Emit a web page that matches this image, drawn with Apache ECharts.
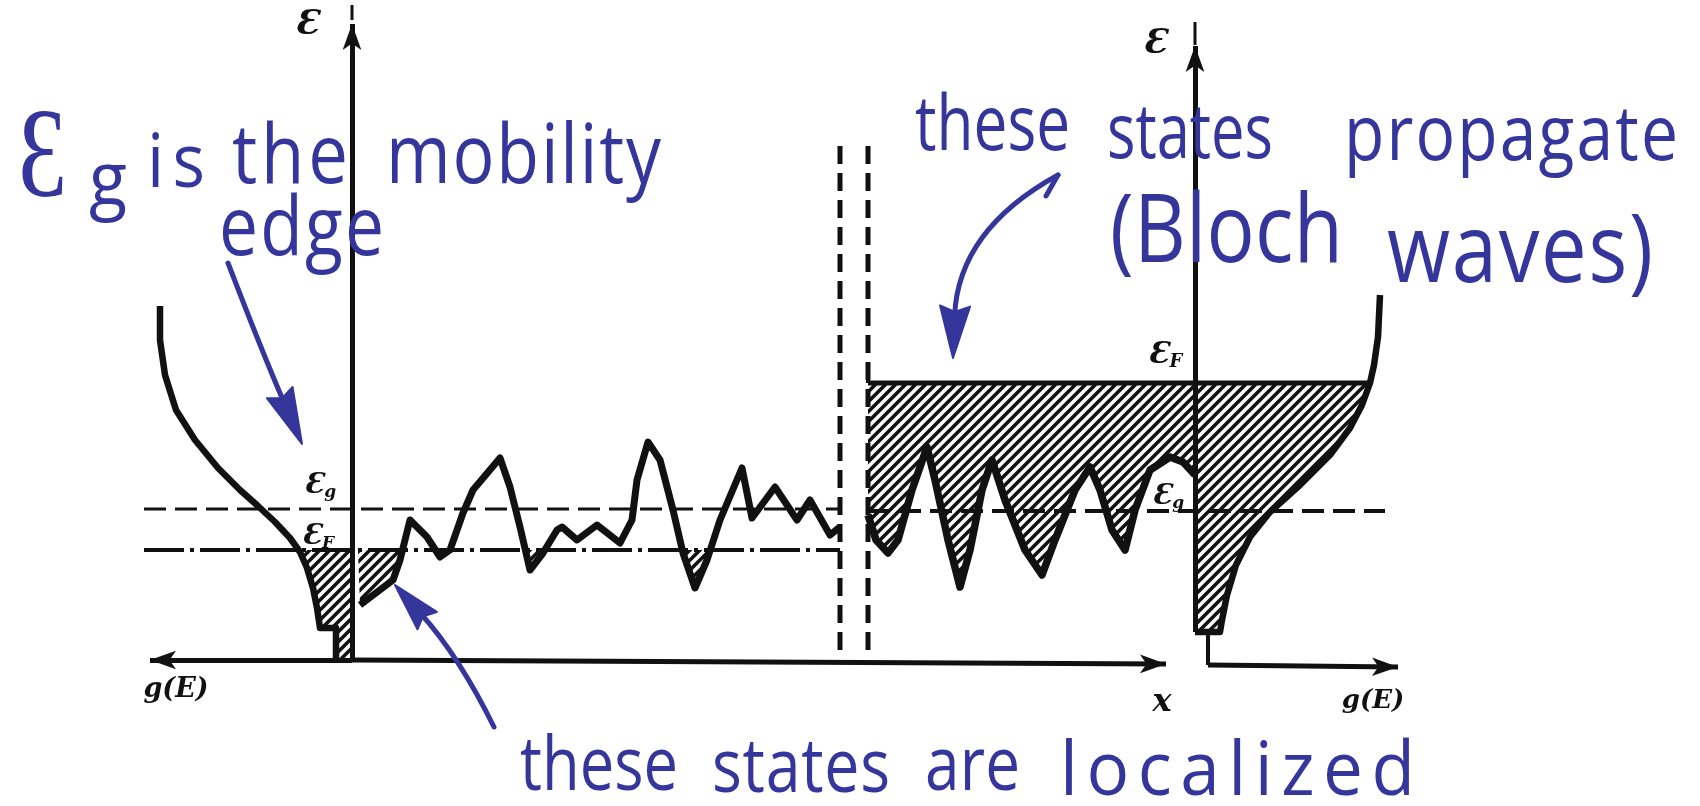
<!DOCTYPE html>
<html>
<head>
<meta charset="utf-8">
<title>Mobility edge: localized and propagating states</title>
<script src="https://cdn.jsdelivr.net/npm/echarts@6/dist/echarts.min.js"></script>
<style>
  html, body { margin: 0; padding: 0; background: #ffffff; }
  #chart { width: 1700px; height: 806px; }
</style>
</head>
<body>
<div id="chart"></div>
<script>
// One plane carries both panels: x is the horizontal position, e the energy
// measured upward from the x axis.

// Energy levels (mobility edge and Fermi level) in each panel
const leftEg = 151;
const leftEF = 110;
const rightEg = 149;
const rightEF = 277;

// Left panel: density of states, g(E) grows to the left of the energy axis
const leftDos = [[160,354],[160,320],[165,285],[176,250],[195,220],[218,192],[240,170],[258,154],
  [275,138],[290,122],[300,108],[307,92],[313,72],[317,52],[320,32],[336,32],[336,0]];

// Random potential on the localized side
const leftPotential = [[360,55],[393,80],[400,100],[410,140],[427,123],[440,103],[450,110],[463,147],
  [473,170],[500,202],[510,173],[520,133],[530,90],[543,107],[557,130],[562,133],[577,120],[597,135],
  [620,117],[632,140],[637,180],[648,218],[660,200],[673,150],[683,107],[695,72],[707,100],[720,140],
  [742,192],[752,142],[775,173],[797,140],[810,160],[830,125],[840,133]];

// Random potential on the propagating side
const rightPotential = [[868,145],[876,120],[888,107],[898,120],[912,170],[927,213],[935,180],[948,120],
  [960,73],[970,110],[982,170],[992,200],[1005,160],[1025,110],[1042,85],[1055,120],[1075,170],
  [1090,193],[1100,170],[1112,130],[1125,110],[1135,150],[1150,190],[1170,203],[1183,198],[1195,185]];

// Right panel: density of states, g(E) grows to the right
const rightDos = [[1380,365],[1378,323],[1374,295],[1370,277],[1362,255],[1350,232],[1330,205],
  [1300,175],[1270,148],[1250,123],[1236,95],[1227,65],[1222,40],[1220,28],[1195,28]];

// Frame of the figure
const leftAxisX = 352;
const rightAxisX = 1195;
const wallX = [840, 868];

const INK = '#111111';
const PEN = '#34369c';

// Diagonal hatching used for occupied states
const hatchCanvas = (function () {
  const c = document.createElement('canvas');
  c.width = 10; c.height = 10;
  const g = c.getContext('2d');
  g.strokeStyle = INK; g.lineWidth = 3.6;
  g.beginPath();
  g.moveTo(-5, 5); g.lineTo(5, -5);
  g.moveTo(0, 10); g.lineTo(10, 0);
  g.moveTo(5, 15); g.lineTo(15, 5);
  g.stroke();
  return c;
})();
const hatchFill = { type: 'pattern', image: hatchCanvas, repeat: 'repeat' };

// Keep the part of a polygon that lies below a given energy
function clipBelow(poly, level) {
  const out = [];
  for (let i = 0; i < poly.length; i++) {
    const a = poly[i], b = poly[(i + 1) % poly.length];
    const ain = a[1] <= level, bin = b[1] <= level;
    if (ain) out.push(a);
    if (ain !== bin) {
      const t = (level - a[1]) / (b[1] - a[1]);
      out.push([a[0] + t * (b[0] - a[0]), level]);
    }
  }
  return out;
}

const filled = [
  clipBelow([[leftAxisX, 400]].concat(leftDos, [[leftAxisX, 0]]), leftEF),
  clipBelow([[358, leftEF]].concat(leftPotential, [[wallX[0], leftEF]]), leftEF),
  clipBelow([[wallX[1], rightEF]].concat(rightPotential, [[rightAxisX, rightEF]]), rightEF),
  clipBelow([[rightAxisX, 400]].concat(rightDos), rightEF)
];

// Symbol labels on the axes
const symbolLabels = [
  { sub: '',  x: 307,  e: 635, size: 34 },
  { sub: '',  x: 1155, e: 616, size: 34 },
  { sub: 'g', x: 320,  e: 174, size: 28 },
  { sub: 'F', x: 318,  e: 123, size: 28 },
  { sub: 'F', x: 1165, e: 305, size: 30 },
  { sub: 'g', x: 1168, e: 163, size: 28 }
];
const axisTitles = [
  { text: 'g(E)', x: 176,  e: -30, size: 27 },
  { text: 'g(E)', x: 1373, e: -41, size: 26 },
  { text: 'x',    x: 1162, e: -43, size: 32 }
];

// Handwritten notes, word by word: left/right extent, baseline, size, vertical stretch
const notes = [
  { text: 'Ɛ',         x0: 18,   x1: 67,   e: 463,  size: 128, sy: 1.0 },
  { text: 'g',         x0: 89,   x1: 127,  e: 455,  size: 62 },
  { text: 'is',        x0: 147,  x1: 205,  e: 473,  size: 62 },
  { text: 'the',       x0: 232,  x1: 348,  e: 477,  size: 68 },
  { text: 'mobility',  x0: 386,  x1: 661,  e: 477,  size: 68 },
  { text: 'edge',      x0: 219,  x1: 384,  e: 405,  size: 68 },
  { text: 'these',     x0: 915,  x1: 1070, e: 510,  size: 64 },
  { text: 'states',    x0: 1107, x1: 1273, e: 502,  size: 64 },
  { text: 'propagate', x0: 1344, x1: 1678, e: 500,  size: 64 },
  { text: '(Bloch',    x0: 1110, x1: 1343, e: 398,  size: 80 },
  { text: 'waves)',    x0: 1387, x1: 1653, e: 378,  size: 80 },
  { text: 'these',     x0: 520,  x1: 678,  e: -130, size: 62 },
  { text: 'states',    x0: 712,  x1: 890,  e: -132, size: 62 },
  { text: 'are',       x0: 925,  x1: 1020, e: -130, size: 62 },
  { text: 'localized', x0: 1060, x1: 1415, e: -135, size: 62 }
];
const NOTE_FONT = '"Open Sans"';
const NOTE_WEIGHT = 400;
const NOTE_STRETCH = 1.2;

// Pointers from the notes: tail, bend point of the shaft, tip; head length and width
const pointers = [
  { tail: [228, 397],  bend: [263, 306],   tip: [302, 216], head: [56, 28] },
  { tail: [494, -67],  bend: [459, 4],     tip: [395, 75],  head: [48, 26] },
  { tail: [1058, 485], bend: [958, 430],   tip: [953, 302], head: [52, 30] }
];
// small flick at the start of the upper pointer
const pointerFlick = [[1058, 485], [1046, 464]];

const measureCtx = document.createElement('canvas').getContext('2d');
function textWidth(text, font) { measureCtx.font = font; return measureCtx.measureText(text).width; }

function segment(points, style, z) {
  return { type: 'line', data: points, showSymbol: false, silent: true, z: z || 3,
    animation: false, lineStyle: Object.assign({ color: INK, join: 'round', cap: 'butt' }, style) };
}

function arrowPair(from, to, size) {
  return [{ coord: from, symbol: 'none' }, { coord: to, symbol: 'arrow', symbolSize: size }];
}

const chart = echarts.init(document.getElementById('chart'), null, { renderer: 'canvas' });

const option = {
  backgroundColor: '#ffffff',
  animation: false,
  grid: { left: 0, right: 0, top: 0, bottom: 0 },
  xAxis: { type: 'value', min: 0, max: 1700, show: false },
  yAxis: { type: 'value', min: -146, max: 660, show: false },
  series: [
    // hatched occupied states
    {
      type: 'custom', silent: true, z: 1, animation: false,
      data: filled.map((p, i) => [i, 0]),
      renderItem: function (params, api) {
        const pts = filled[params.dataIndex].map(p => api.coord(p));
        return { type: 'polygon', shape: { points: pts }, style: { fill: hatchFill, stroke: null } };
      }
    },
    // energy levels
    segment([[144, leftEg], [wallX[0], leftEg]], { width: 3, type: [22, 9] }),
    segment([[144, leftEF], [wallX[0], leftEF]], { width: 4, type: [40, 6, 4, 6] }),
    segment([[wallX[1], rightEF], [1370, rightEF]], { width: 5 }),
    segment([[wallX[1], rightEg], [1385, rightEg]], { width: 4, type: [22, 9] }),
    segment([[wallX[1], 295], [wallX[1], rightEF]], { width: 4 }),
    // walls of the two regions
    segment([[wallX[0], 10], [wallX[0], 522]], { width: 5, type: [18, 9] }),
    segment([[wallX[1], 10], [wallX[1], 522]], { width: 5, type: [18, 9] }),
    // density of states and potential curves
    segment(leftDos, { width: 6.5 }, 4),
    segment(leftPotential, { width: 7 }, 4),
    segment(rightPotential, { width: 7.5 }, 4),
    segment(rightDos, { width: 6.5 }, 4),
    // axes
    segment([[rightAxisX, 28], [1208, 28], [1208, -5]], { width: 4 }),
    segment([[leftAxisX, 640], [leftAxisX, 655]], { width: 3 }),
    segment([[rightAxisX, 615], [rightAxisX, 638]], { width: 3 }),
    {
      type: 'line', data: [], silent: true, z: 5, animation: false,
      markLine: {
        silent: true, animation: false, label: { show: false },
        lineStyle: { color: INK, width: 5, type: 'solid' },
        symbol: ['none', 'none'],
        data: [
          arrowPair([leftAxisX, 0], [leftAxisX, 636], [14, 26]),
          arrowPair([leftAxisX, 0], [150, 0], [14, 26]),
          arrowPair([leftAxisX, 0], [1166, -4], [14, 26]),
          arrowPair([rightAxisX, 28], [rightAxisX, 614], [14, 26]),
          arrowPair([1208, -5], [1398, -7], [14, 26])
        ]
      }
    },
    // symbol labels
    {
      type: 'custom', silent: true, z: 6, animation: false,
      data: symbolLabels.map((p, i) => [i, 0]),
      renderItem: function (params, api) {
        const L = symbolLabels[params.dataIndex];
        const p = api.coord([L.x, L.e]);
        return {
          type: 'text', x: p[0], y: p[1],
          style: {
            text: L.sub ? '{m|Ɛ}{s|' + L.sub + '}' : '{m|Ɛ}',
            align: 'center', verticalAlign: 'middle',
            rich: {
              m: { fontFamily: 'DejaVu Serif', fontStyle: 'italic', fontWeight: 'bold', fontSize: L.size, fill: INK },
              s: { fontFamily: 'DejaVu Serif', fontStyle: 'italic', fontWeight: 'bold', fontSize: Math.round(L.size * 0.6),
                   fill: INK, padding: [Math.round(L.size * 0.5), 0, 0, 0] }
            }
          }
        };
      }
    },
    {
      type: 'custom', silent: true, z: 6, animation: false,
      data: axisTitles.map((p, i) => [i, 0]),
      renderItem: function (params, api) {
        const L = axisTitles[params.dataIndex];
        const p = api.coord([L.x, L.e]);
        return {
          type: 'text', x: p[0], y: p[1],
          style: { text: L.text, align: 'center', verticalAlign: 'middle', fill: INK,
                   font: 'italic bold ' + L.size + 'px "DejaVu Serif"' }
        };
      }
    },
    // handwritten notes: letters spread over the word's extent, or squeezed when it is short
    {
      type: 'custom', silent: true, z: 8, animation: false,
      data: notes.map((p, i) => [i, 0]),
      renderItem: function (params, api) {
        const n = notes[params.dataIndex];
        const a = api.coord([n.x0, n.e]);
        const b = api.coord([n.x1, n.e]);
        const sy = n.sy || NOTE_STRETCH;
        const font = NOTE_WEIGHT + ' ' + n.size + 'px ' + NOTE_FONT;
        const target = b[0] - a[0];
        const natural = textWidth(n.text, font);
        const y = a[1] - 0.29 * n.size * sy;
        const chars = Array.from(n.text);
        if (target <= natural || chars.length < 2) {
          return {
            type: 'text', x: a[0], y: y, scaleX: target / natural, scaleY: sy,
            style: { text: n.text, font: font, fill: PEN, align: 'left', verticalAlign: 'middle' }
          };
        }
        // spread extra room partly as letter gaps, partly as a gentle widening
        const widen = 1 + (target / natural - 1) * 0.35;
        const gap = (target - natural * widen) / (chars.length - 1);
        let x = a[0];
        const children = chars.map(ch => {
          const el = {
            type: 'text', x: x, y: y, scaleX: widen, scaleY: sy,
            style: { text: ch, font: font, fill: PEN, align: 'left', verticalAlign: 'middle' }
          };
          x += textWidth(ch, font) * widen + gap;
          return el;
        });
        return { type: 'group', children: children };
      }
    },
    // pointers: curved shaft and a filled head along the end tangent
    {
      type: 'custom', silent: true, z: 8, animation: false,
      data: pointers.map((p, i) => [i, 0]),
      renderItem: function (params, api) {
        const P = pointers[params.dataIndex];
        const t0 = api.coord(P.tail), c = api.coord(P.bend), t1 = api.coord(P.tip);
        const dx = t1[0] - c[0], dy = t1[1] - c[1];
        const len = Math.sqrt(dx * dx + dy * dy);
        const ux = dx / len, uy = dy / len;
        const L = P.head[0], W = P.head[1] / 2;
        const bx = t1[0] - ux * L, by = t1[1] - uy * L;
        return {
          type: 'group',
          children: [
            { type: 'bezierCurve',
              shape: { x1: t0[0], y1: t0[1], cpx1: c[0], cpy1: c[1], x2: bx + ux * 10, y2: by + uy * 10 },
              style: { stroke: PEN, lineWidth: 5, fill: null, lineCap: 'round' } },
            { type: 'polygon',
              shape: { points: [t1, [bx - uy * W, by + ux * W], [bx + ux * 6, by + uy * 6], [bx + uy * W, by - ux * W]] },
              style: { fill: PEN, stroke: PEN, lineWidth: 2, lineJoin: 'round' } }
          ]
        };
      }
    },
    segment(pointerFlick, { color: PEN, width: 5, cap: 'round' }, 8)
  ]
};

chart.setOption(option);
</script>
</body>
</html>
